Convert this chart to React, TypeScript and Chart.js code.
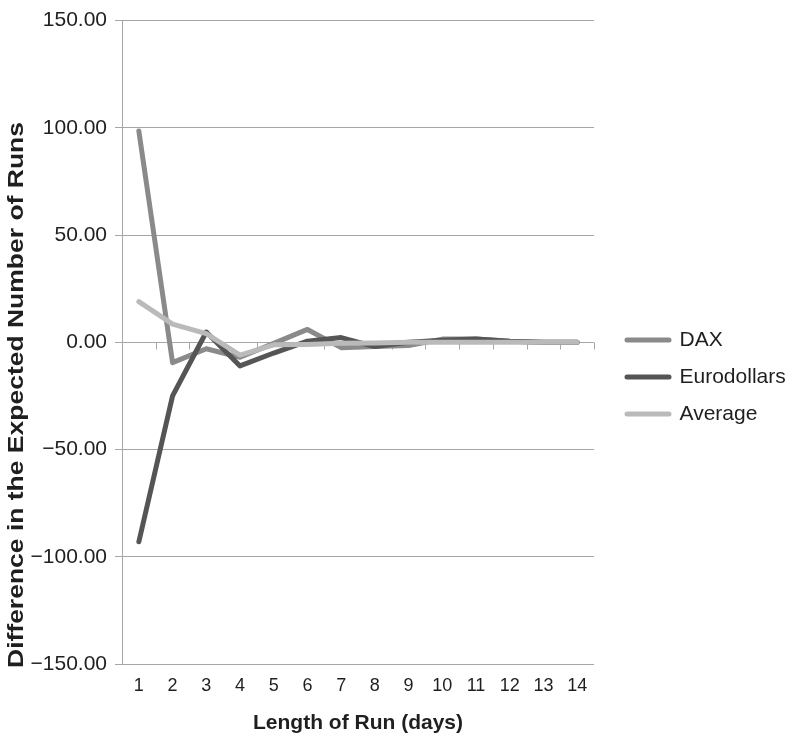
import React, { useEffect, useRef } from 'react';
import { Chart, registerables } from 'chart.js';

Chart.register(...registerables);

// ---- data ----
const categories = ['1', '2', '3', '4', '5', '6', '7', '8', '9', '10', '11', '12', '13', '14'];
const daxValues = [98.5, -9.5, -3, -7, -0.5, 6, -2.5, -2, -1.5, 1.5, 1.5, 0.5, 0, 0];
const eurodollarValues = [-93, -25, 4.8, -11, -5, 0.5, 2.2, -2, 0, 1, 1.5, 0.5, 0, 0];
const averageValues = [19, 8.5, 4, -6, -1.2, -1, -0.5, -0.3, 0, 0, 0, 0, 0, 0];
const seriesNames = ['DAX', 'Eurodollars', 'Average'];
const seriesColors = ['#8a8a8a', '#555555', '#bababa'];
const yMin = -150;
const yMax = 150;
const yStep = 50;
const xTitle = 'Length of Run (days)';
const yTitle = 'Difference in the Expected Number of Runs';

const FONT = '"Liberation Sans", Arial, Helvetica, sans-serif';
const GRID = '#a6a6a6';
const TEXT = '#1f1f1f';

const fmt = (v: number) => (v < 0 ? '\u2212' + Math.abs(v).toFixed(2) : v.toFixed(2));

const zeroTicks = {
  id: 'zeroTicks',
  beforeDatasetsDraw(chart: any) {
    const { ctx, chartArea } = chart;
    const xs = chart.scales.x;
    const ys = chart.scales.y;
    const y0 = Math.round(ys.getPixelForValue(0)) + 0.5;
    const n = categories.length;
    ctx.save();
    ctx.strokeStyle = GRID;
    ctx.lineWidth = 1;
    for (let i = 0; i <= n; i++) {
      let px: number;
      if (i === 0) px = chartArea.left;
      else if (i === n) px = chartArea.right;
      else px = (xs.getPixelForValue(i - 1) + xs.getPixelForValue(i)) / 2;
      px = Math.round(px) + 0.5;
      ctx.beginPath();
      ctx.moveTo(px, y0);
      ctx.lineTo(px, y0 + 7);
      ctx.stroke();
    }
    ctx.restore();
  },
};

const yTitlePlugin = {
  id: 'yTitlePlugin',
  afterDraw(chart: any) {
    const { ctx } = chart;
    ctx.save();
    ctx.font = 'bold 22px ' + FONT;
    ctx.fillStyle = TEXT;
    const w = ctx.measureText(yTitle).width;
    const target = 546;
    ctx.translate(16.5, 395);
    ctx.rotate(-Math.PI / 2);
    ctx.scale(target / w, 1);
    ctx.textAlign = 'center';
    ctx.textBaseline = 'middle';
    ctx.fillText(yTitle, 0, 0);
    ctx.restore();
  },
};

export default function App() {
  const ref = useRef<HTMLCanvasElement>(null);

  useEffect(() => {
    document.body.style.margin = '0';
    const canvas = ref.current!;
    const datasets = [daxValues, eurodollarValues, averageValues].map((data, i) => ({
      label: seriesNames[i],
      data,
      borderColor: seriesColors[i],
      backgroundColor: seriesColors[i],
      borderWidth: 5,
      borderCapStyle: 'round' as const,
      borderJoinStyle: 'round' as const,
      pointRadius: 0,
      tension: 0,
      order: 3 - i,
    }));
    const chart = new Chart(canvas, {
      type: 'line',
      data: { labels: categories, datasets },
      options: {
        responsive: false,
        animation: false,
        layout: { padding: { top: 18, left: 0, right: 0, bottom: 0 } },
        plugins: {
          tooltip: { enabled: false },
          legend: {
            position: 'right',
            maxWidth: 177,
            labels: {
              usePointStyle: true,
              pointStyleWidth: 42,
              padding: 16,
              color: TEXT,
              font: { family: FONT, size: 21 },
              generateLabels: (c: any) =>
                c.data.datasets.map((ds: any, i: number) => ({
                  text: ds.label,
                  fillStyle: ds.borderColor,
                  strokeStyle: ds.borderColor,
                  lineWidth: 5,
                  lineCap: 'round',
                  pointStyle: 'line',
                  hidden: false,
                  datasetIndex: i,
                  fontColor: TEXT,
                })),
            },
          },
        },
        scales: {
          x: {
            type: 'category',
            offset: true,
            grid: { display: false, drawTicks: false },
            border: { display: false },
            ticks: {
              color: TEXT,
              font: { family: FONT, size: 18 },
              padding: 11,
              maxRotation: 0,
              autoSkip: false,
            },
            title: {
              display: true,
              text: xTitle,
              color: TEXT,
              font: { family: FONT, size: 21, weight: 'bold' },
              padding: { top: 0, bottom: 0 },
            },
            afterFit(s: any) {
              s.height = 72;
            },
          },
          y: {
            min: yMin,
            max: yMax,
            grid: { color: GRID, lineWidth: 1, tickLength: 7, tickColor: GRID },
            border: { display: true, color: GRID, width: 1 },
            ticks: {
              stepSize: yStep,
              color: TEXT,
              font: { family: FONT, size: 21 },
              padding: 8,
              callback: (v: any) => fmt(Number(v)),
            },
            afterFit(s: any) {
              s.width = 122;
            },
          },
          gap: {
            type: 'linear',
            position: 'right',
            display: true,
            grid: { display: false, drawTicks: false },
            border: { display: false },
            ticks: { display: false },
            afterFit(s: any) {
              s.width = 17;
            },
          },
        },
      },
      plugins: [zeroTicks, yTitlePlugin],
    });
    return () => chart.destroy();
  }, []);

  return (
    <div style={{ width: 788, height: 736, background: '#fff' }}>
      <canvas ref={ref} width={788} height={736} style={{ display: 'block' }} />
    </div>
  );
}
